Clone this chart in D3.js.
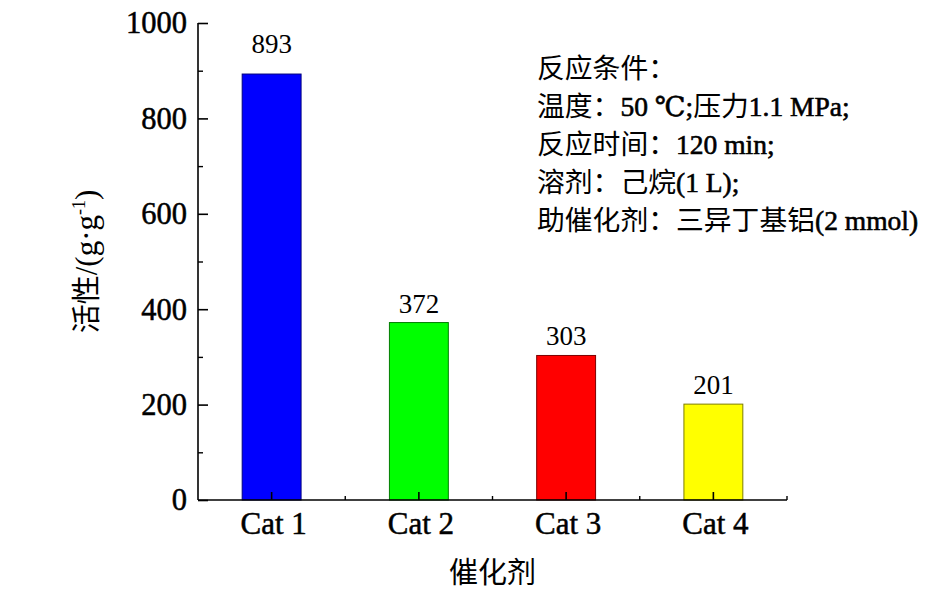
<!DOCTYPE html>
<html>
<head>
<meta charset="utf-8">
<script src="https://cdn.jsdelivr.net/npm/d3@7"></script>
<style>
  html, body { margin: 0; padding: 0; background: #fff; }
  svg { display: block; }
  text { font-family: "Liberation Serif", "Times New Roman", "DejaVu Serif", "Noto Sans CJK SC", serif; fill: #000; }
  .cjk { font-family: "Noto Sans CJK SC", sans-serif; }
</style>
</head>
<body>
<svg id="chart" width="947" height="593"></svg>
<script>
// Catalyst activity data
const categories = ["Cat 1", "Cat 2", "Cat 3", "Cat 4"];
const activity = [893, 372, 303, 201];
const barColors = ["#0000ff", "#00ff00", "#ff0000", "#ffff00"];
const yTicks = [0, 200, 400, 600, 800, 1000];
const yMinorTicks = [100, 300, 500, 700, 900];
const conditionLines = [
  "反应条件：",
  "温度：50 ℃;压力1.1 MPa;",
  "反应时间：120 min;",
  "溶剂：己烷(1 L);",
  "助催化剂：三异丁基铝(2 mmol)"
];

const svg = d3.select("#chart");
const plotLeft = 198, plotRight = 787, plotTop = 23, plotBottom = 500;

const x = d3.scaleBand().domain(categories).range([plotLeft, plotRight]).padding(0);
const y = d3.scaleLinear().domain([0, 1000]).range([plotBottom, plotTop]);
const barW = x.bandwidth() * 0.4;

// Split a string into CJK / Latin runs so each can get its own size
const cjkRe = /[\u3000-\u303f\u4e00-\u9fff\uff00-\uffef]/;
function runs(str) {
  const out = [];
  for (const ch of str) {
    const isCjk = cjkRe.test(ch);
    if (out.length && out[out.length - 1].cjk === isCjk) out[out.length - 1].t += ch;
    else out.push({ t: ch, cjk: isCjk });
  }
  return out;
}
function mixedText(sel, str, cjkSize, latinSize, latinStroke) {
  runs(str).forEach((r) => {
    const t = sel.append("tspan")
      .attr("class", r.cjk ? "cjk" : null)
      .attr("font-size", r.cjk ? cjkSize : latinSize)
      .text(r.t);
    if (!r.cjk && latinStroke) t.attr("stroke", "#000").attr("stroke-width", latinStroke);
  });
}

// Bars
svg.append("g").selectAll("rect")
  .data(categories)
  .join("rect")
  .attr("x", (d) => x(d) + (x.bandwidth() - barW) / 2)
  .attr("y", (d, i) => y(activity[i]))
  .attr("width", barW)
  .attr("height", (d, i) => y(0) - y(activity[i]))
  .attr("fill", (d, i) => barColors[i])
  .attr("stroke", (d, i) => d3.color(barColors[i]).darker(2))
  .attr("stroke-width", 1);

// Value labels (the tallest bar's label sits a little higher)
svg.append("g").selectAll("text")
  .data(categories)
  .join("text")
  .attr("x", (d) => x(d) + x.bandwidth() / 2)
  .attr("y", (d, i) => y(activity[i]) - (i === 0 ? 21 : 10))
  .attr("text-anchor", "middle")
  .attr("font-size", 27)
  .text((d, i) => activity[i]);

// Y axis (ticks pointing into the plot)
const yAxis = svg.append("g").attr("transform", `translate(${plotLeft},0)`)
  .call(d3.axisRight(y).tickValues(yTicks).tickSize(10).tickFormat(""));
yAxis.select(".domain").attr("d", `M0,${plotTop}V${plotBottom}`);
yAxis.selectAll("line, path").attr("stroke", "#000").attr("stroke-width", 1.6);
svg.append("g").attr("transform", `translate(${plotLeft},0)`)
  .call(d3.axisRight(y).tickValues(yMinorTicks).tickSize(5).tickFormat(""))
  .call((g) => g.select(".domain").remove())
  .selectAll("line").attr("stroke", "#000").attr("stroke-width", 1.4);
svg.append("g").selectAll("text")
  .data(yTicks)
  .join("text")
  .attr("x", plotLeft - 11)
  .attr("y", (d) => y(d))
  .attr("dy", "0.34em")
  .attr("text-anchor", "end")
  .attr("font-size", 30.5)
  .attr("stroke", "#000").attr("stroke-width", 0.5)
  .text((d) => d);

// X axis (ticks pointing up)
const xAxis = svg.append("g").attr("transform", `translate(0,${plotBottom})`)
  .call(d3.axisTop(x).tickSize(8).tickFormat(""));
xAxis.select(".domain").attr("d", `M${plotLeft},0H${plotRight}`);
xAxis.selectAll("line, path").attr("stroke", "#000").attr("stroke-width", 1.6);
const bounds = categories.map((d) => x(d) + x.bandwidth());
svg.append("g").selectAll("line")
  .data(bounds)
  .join("line")
  .attr("x1", (d) => d).attr("x2", (d) => d)
  .attr("y1", plotBottom).attr("y2", plotBottom - 4)
  .attr("stroke", "#000").attr("stroke-width", 1.4);
svg.append("g").selectAll("text")
  .data(categories)
  .join("text")
  .attr("x", (d) => x(d) + x.bandwidth() / 2 + 2)
  .attr("y", plotBottom + 34)
  .attr("text-anchor", "middle")
  .attr("font-size", 31)
  .attr("stroke", "#000").attr("stroke-width", 0.5)
  .text((d) => d);

// Axis titles
svg.append("text")
  .attr("class", "cjk")
  .attr("x", (plotLeft + plotRight) / 2)
  .attr("y", 583)
  .attr("text-anchor", "middle")
  .attr("font-size", 29)
  .text("催化剂");

const yTitle = svg.append("text")
  .attr("transform", `translate(97,${(plotTop + plotBottom) / 2}) rotate(-90)`)
  .attr("text-anchor", "middle");
mixedText(yTitle, "活性/(g·g", 29, 31);
yTitle.append("tspan").attr("font-size", 18).attr("dy", -12).text("-1");
yTitle.append("tspan").attr("font-size", 31).attr("dy", 12).text(")");

// Reaction conditions
const cond = svg.append("g").selectAll("text")
  .data(conditionLines)
  .join("text")
  .attr("x", 537)
  .attr("y", (d, i) => 78 + i * 38);
cond.each(function (d) { mixedText(d3.select(this), d, 27.8, 27.5, 0.6); });
</script>
</body>
</html>
